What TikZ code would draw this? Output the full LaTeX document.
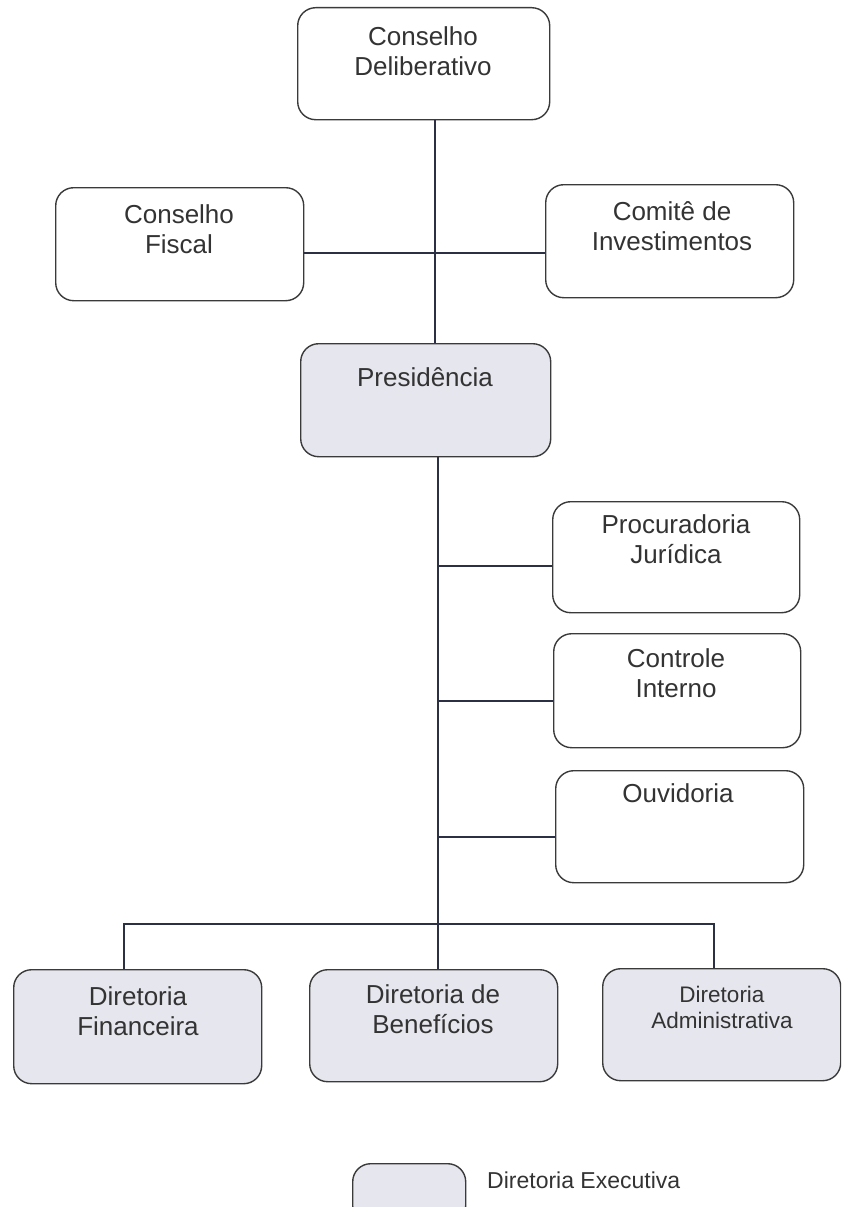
\documentclass[tikz,border=0pt]{standalone}
\usepackage{fontspec}
\setmainfont{Liberation Sans}
\definecolor{boxfill}{HTML}{E6E6EE}
\definecolor{edgecol}{HTML}{3A3A3A}
\definecolor{linkcol}{HTML}{2B3045}
\definecolor{ink}{HTML}{333333}
\begin{document}
\begin{tikzpicture}[x=1pt,y=-1pt,
  box/.style={draw=edgecol, line width=1.4pt, rounded corners=18pt, anchor=north west, inner sep=0pt, fill=white},
  execbox/.style={box, fill=boxfill},
  txt/.style={anchor=north, align=center, inner sep=0pt, text=ink, font=\fontsize{26}{30}\selectfont},
  smalltxt/.style={txt, font=\fontsize{22.5}{26}\selectfont},
  link/.style={draw=linkcol, line width=1.6pt}
]
\useasboundingbox (0,0) rectangle (841,1207);
\clip (0,0) rectangle (841,1207);

% boxes
\node[box, minimum width=252pt, minimum height=112pt] (cd) at (297,7) {};
\node[box, minimum width=248pt, minimum height=113pt] (cf) at (55,187) {};
\node[box, minimum width=248pt, minimum height=113pt] (ci) at (545,184) {};
\node[execbox, minimum width=250pt, minimum height=113pt] (pres) at (300,343) {};
\node[box, minimum width=247pt, minimum height=111pt] (pj) at (552,501) {};
\node[box, minimum width=247pt, minimum height=114pt] (ctl) at (553,633) {};
\node[box, minimum width=248pt, minimum height=112pt] (ouv) at (555,770) {};
\node[execbox, minimum width=248pt, minimum height=114pt] (df) at (13,969) {};
\node[execbox, minimum width=248pt, minimum height=112pt] (db) at (309,969) {};
\node[execbox, minimum width=238pt, minimum height=112pt] (da) at (602,968) {};
\node[execbox, minimum width=113pt, minimum height=60pt] (leg) at (352,1163) {};

% texts
\node[txt] (cdt) at (423,26) {Conselho\\Deliberativo};
\node[txt] (cft) at (179,204) {Conselho\\Fiscal};
\node[txt] (cit) at (672,201) {Comitê de\\Investimentos};
\node[txt] (prest) at (425,367) {Presidência};
\node[txt] (pjt) at (676,514) {Procuradoria\\Jurídica};
\node[txt] (ctlt) at (676,648) {Controle\\Interno};
\node[txt] (ouvt) at (678,783) {Ouvidoria};
\node[txt] (dft) at (138,986) {Diretoria\\Financeira};
\node[txt] (dbt) at (433,984) {Diretoria de\\Benefícios};
\node[smalltxt] (dat) at (722,986) {Diretoria\\Administrativa};
\node[anchor=base west, inner sep=0pt, text=ink, font=\fontsize{23}{27}\selectfont] (legt) at (487,1188) {Diretoria Executiva};

% connector helpers
\coordinate (t1) at (435,0);
\coordinate (h1) at (0,253);
\coordinate (t2) at (438,0);
\coordinate (b1) at (438,566);
\coordinate (b2) at (438,701);
\coordinate (b3) at (438,837);
\coordinate (v1) at (124,924);
\coordinate (v3) at (714,924);

% connectors
\draw[link] (cd.south -| t1) -- (pres.north -| t1);
\draw[link] (cf.east |- h1) -- (ci.west |- h1);
\draw[link] (pres.south -| t2) -- (db.north -| t2);
\draw[link] (b1) -- (b1 -| pj.west);
\draw[link] (b2) -- (b2 -| ctl.west);
\draw[link] (b3) -- (b3 -| ouv.west);
\draw[link] (v1 |- df.north) -- (v1) -- (v3) -- (v3 |- da.north);
\end{tikzpicture}
\end{document}
